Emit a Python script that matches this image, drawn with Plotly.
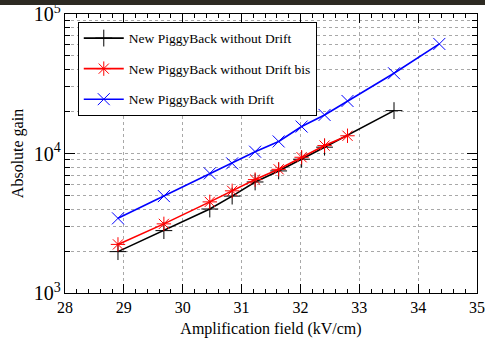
import plotly.graph_objects as go

# Data
x_nodrift = [28.9, 29.68, 30.46, 30.84, 31.23, 31.63, 32.02, 32.41, 33.59]
y_nodrift = [1980, 2800, 4000, 4950, 6250, 7500, 9100, 11100, 20300]

x_nodrift_bis = [28.9, 29.68, 30.46, 30.84, 31.23, 31.63, 32.02, 32.41, 32.8]
y_nodrift_bis = [2230, 3130, 4500, 5400, 6500, 7700, 9400, 11400, 13400]

x_drift = [28.9, 29.68, 30.46, 30.84, 31.23, 31.63, 32.02, 32.41, 32.8, 33.59, 34.36]
y_drift = [3430, 4950, 7200, 8500, 10300, 12200, 15600, 18900, 23800, 37600, 61000]

names = ["New PiggyBack without Drift", "New PiggyBack without Drift bis", "New PiggyBack with Drift"]
colors = ["#000000", "#ff0000", "#0000ff"]
symbols = ["cross-thin", "asterisk", "x-thin"]

FONT = "Liberation Serif, Times New Roman, DejaVu Serif, serif"

fig = go.Figure()
for i, (xs, ys) in enumerate([(x_nodrift, y_nodrift), (x_nodrift_bis, y_nodrift_bis), (x_drift, y_drift)]):
    fig.add_trace(go.Scatter(
        x=xs, y=ys, name=names[i], mode="lines+markers",
        legendgroup=f"g{i}",
        line=dict(color=colors[i], width=1.6),
        marker=dict(symbol=symbols[i], size=12, color=colors[i],
                    line=dict(color=colors[i], width=1)),
    ))

L, R, T, B = 65, 8, 14, 45
fig.update_layout(
    width=485, height=338,
    margin=dict(l=L, r=R, t=T, b=B, autoexpand=False),
    paper_bgcolor="white", plot_bgcolor="white",
    font=dict(family=FONT, size=15, color="black"),
    showlegend=True,
    legend=dict(
        x=0.031, y=0.972, xanchor="left", yanchor="top",
        bgcolor="white", bordercolor="black", borderwidth=1,
        font=dict(family=FONT, size=13.5, color="black"),
        tracegroupgap=10, itemwidth=40,
    ),
    shapes=[dict(type="rect", xref="paper", yref="paper",
                 x0=-L / 412, x1=1 + R / 412,
                 y0=1 + (T - 5) / 279, y1=1 + T / 279,
                 fillcolor="#2d2a22", line=dict(width=0), layer="above")],
)

GRID = "#a8a8a8"
fig.update_xaxes(
    range=[28, 35], dtick=1, tick0=28, automargin=False,
    ticks="inside", ticklen=9, tickcolor="black", tickwidth=1,
    showline=True, linecolor="black", linewidth=1, mirror="allticks",
    showgrid=True, gridcolor=GRID, griddash="dot", gridwidth=1,
    zeroline=False,
    minor=dict(dtick=0.2, ticks="inside", ticklen=4, tickcolor="black", showgrid=False),
    title=dict(text="Amplification field (kV/cm)", font=dict(family=FONT, size=16), standoff=8),
    tickfont=dict(family=FONT, size=16),
)
fig.update_yaxes(
    type="log", range=[3, 5], dtick=1, automargin=False,
    exponentformat="power", showexponent="all",
    ticks="inside", ticklen=10, tickcolor="black", tickwidth=1,
    showline=True, linecolor="black", linewidth=1, mirror="allticks",
    showgrid=True, gridcolor=GRID, griddash="dot", gridwidth=1,
    zeroline=False,
    minor=dict(dtick="D1", ticks="inside", ticklen=5, tickcolor="black",
               showgrid=True, gridcolor=GRID, griddash="dot", gridwidth=1),
    title=dict(text="Absolute gain", font=dict(family=FONT, size=16), standoff=6),
    tickfont=dict(family=FONT, size=16),
)

fig.write_html("out.html")
